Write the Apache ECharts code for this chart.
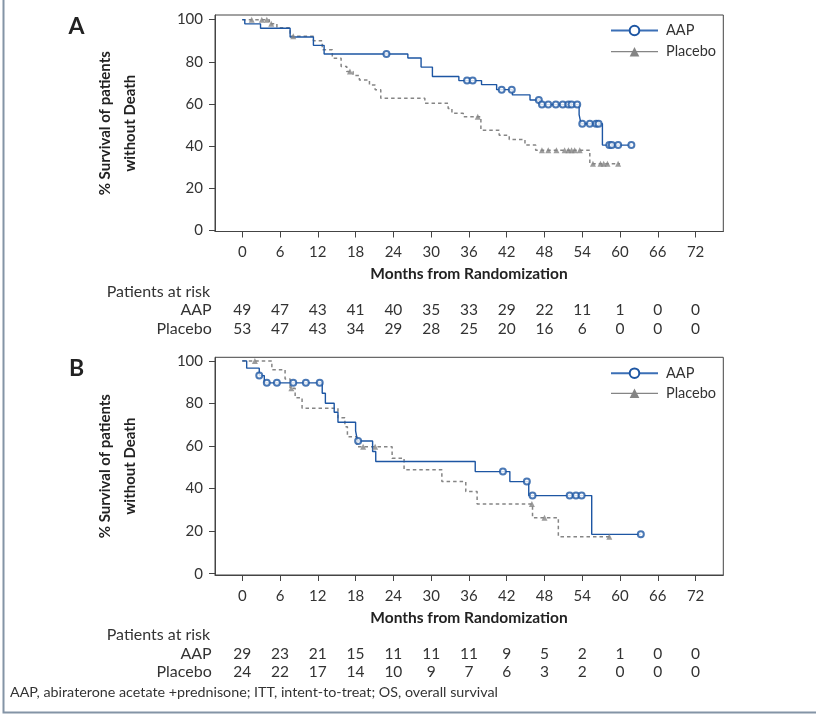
<!DOCTYPE html>
<html><head><meta charset="utf-8">
<script src="https://cdn.jsdelivr.net/npm/echarts@6/dist/echarts.min.js"></script>
<style>html,body{margin:0;padding:0;background:#fff}#c{width:816px;height:716px}</style>
</head><body><div id="c"></div>
<script>
// ---------- data ----------
const monthTicks = [0, 6, 12, 18, 24, 30, 36, 42, 48, 54, 60, 66, 72];
const yTicks = [0, 20, 40, 60, 80, 100];
const seriesNames = ['AAP', 'Placebo'];

const riskA_AAP = [49, 47, 43, 41, 40, 35, 33, 29, 22, 11, 1, 0, 0];
const riskA_Placebo = [53, 47, 43, 34, 29, 28, 25, 20, 16, 6, 0, 0, 0];
const riskB_AAP = [29, 23, 21, 15, 11, 11, 11, 9, 5, 2, 1, 0, 0];
const riskB_Placebo = [24, 22, 17, 14, 10, 9, 7, 6, 3, 2, 0, 0, 0];

// Kaplan-Meier steps [month, % surviving]
const stepsA_AAP = [[0,100],[0.4,98.0],[2.9,95.9],[7.6,91.8],[11.3,87.8],[13.0,83.7],[26.3,81.8],[28.4,77.5],[30.2,73.0],[34.4,71.1],[38.0,69.2],[40.4,66.8],[42.9,64.3],[45.7,61.9],[47.3,59.7],[53.5,55.0],[53.8,50.6],[57.2,40.5],[61.8,40.5]];
const censA_AAP = [[22.9,83.7],[35.7,71.1],[36.6,71.1],[41.2,66.8],[42.8,66.8],[47.1,61.9],[47.6,59.7],[48.6,59.7],[49.8,59.7],[50.9,59.7],[51.8,59.7],[52.3,59.7],[53.2,59.7],[54.0,50.6],[55.2,50.6],[56.2,50.6],[56.6,50.6],[58.3,40.5],[58.7,40.5],[59.7,40.5],[61.8,40.5]];
const stepsA_Placebo = [[0,100],[4.3,98.1],[5.5,96.2],[7.6,92.1],[11.3,90.0],[12.7,85.7],[14.3,81.7],[15.7,77.8],[16.6,75.4],[17.6,73.5],[18.6,71.4],[20.2,69.0],[21.1,66.7],[22.0,62.7],[29.0,60.3],[32.7,57.9],[33.3,55.6],[35.1,54.0],[37.9,47.6],[40.8,45.2],[42.4,43.2],[44.9,40.5],[46.6,38.1],[55.2,31.7],[60.0,31.7]];
const censA_Placebo = [[1.5,100],[3.1,100],[3.9,100],[4.6,98.1],[8.1,92.1],[17.1,75.4],[37.4,54.0],[47.6,38.1],[48.6,38.1],[49.9,38.1],[51.2,38.1],[51.8,38.1],[52.3,38.1],[52.8,38.1],[53.6,38.1],[55.7,31.7],[56.9,31.7],[57.4,31.7],[58.0,31.7],[59.7,31.7]];

const stepsB_AAP = [[0,100],[0.7,96.6],[2.7,93.1],[3.5,89.7],[12.7,84.8],[13.2,80.1],[14.6,75.9],[15.2,71.2],[18.0,67.1],[18.3,62.4],[20.7,57.4],[21.2,52.7],[37.0,48.0],[42.5,43.3],[45.5,36.7],[55.5,18.5],[63.3,18.5]];
const censB_AAP = [[2.7,93.1],[3.9,89.7],[5.5,89.7],[8.1,89.7],[10.1,89.7],[12.3,89.7],[18.4,62.4],[41.4,48.0],[45.2,43.3],[46.1,36.7],[52.0,36.7],[53.0,36.7],[53.9,36.7],[63.3,18.5]];
const stepsB_Placebo = [[0,100],[4.7,95.8],[6.8,91.5],[7.6,87.2],[8.4,82.7],[9.5,77.8],[15.2,73.3],[16.3,69.1],[16.7,64.4],[18.2,59.7],[23.8,54.3],[25.7,48.8],[31.7,43.3],[35.5,38.6],[37.3,32.8],[46.1,26.3],[50.2,17.4],[58.7,17.4]];
const censB_Placebo = [[2.0,100],[7.8,87.2],[19.2,59.7],[21.1,59.7],[46.0,32.8],[48.0,26.3],[58.3,17.4]];

// ---------- style ----------
const FONT = 'Lato';
const BLUE = '#1d56a3';
const GRAY = '#858585';
const INK = '#333333';
const X_MIN = -4.33, X_MAX = 76.4;

const panels = [
  {top: 15, height: 216.5, yMin: -0.47, yMax: 102.2, label: 'A',
   steps: [stepsA_AAP, stepsA_Placebo], cens: [censA_AAP, censA_Placebo], risk: [riskA_AAP, riskA_Placebo], legendTop: 18, legendGap: 6.2},
  {top: 357.3, height: 217.7, yMin: -0.6, yMax: 101.7, label: 'B',
   steps: [stepsB_AAP, stepsB_Placebo], cens: [censB_AAP, censB_Placebo], risk: [riskB_AAP, riskB_Placebo], legendTop: 360.7, legendGap: 5.1}
];

const grid = [], xAxis = [], yAxis = [], series = [], legend = [], graphic = [];

panels.forEach((p, gi) => {
  grid.push({left: 215, top: p.top, width: 508.3, height: p.height, show: true,
    borderColor: '#444', borderWidth: 1, backgroundColor: 'transparent', containLabel: false});
  const baseX = {type: 'value', gridIndex: gi, min: X_MIN, max: X_MAX, position: 'bottom', splitLine: {show: false}};
  xAxis.push(Object.assign({}, baseX, {
    axisLine: {show: true, onZero: false, lineStyle: {color: '#444', width: 1}},
    axisTick: {show: true, length: 6, lineStyle: {color: '#444'}, customValues: monthTicks},
    axisLabel: {show: true, customValues: monthTicks, margin: 21, verticalAlign: 'middle',
      fontFamily: FONT, fontSize: 15, color: INK}
  }));
  p.risk.forEach((arr, ri) => {
    xAxis.push(Object.assign({}, baseX, {
      offset: ri === 0 ? 78.5 : 97.3,
      axisLine: {show: false, onZero: false}, axisTick: {show: false},
      axisLabel: {show: true, customValues: monthTicks, margin: 0, verticalAlign: 'middle',
        fontFamily: FONT, fontSize: 15.5, color: INK,
        formatter: (v) => { const i = monthTicks.indexOf(Math.round(v)); return i >= 0 ? String(arr[i]) : ''; }}
    }));
  });
  yAxis.push({type: 'value', gridIndex: gi, min: p.yMin, max: p.yMax, splitLine: {show: false},
    axisLine: {show: true, onZero: false, lineStyle: {color: '#444', width: 1}},
    axisTick: {show: true, length: 6, lineStyle: {color: '#444'}, customValues: yTicks},
    axisLabel: {customValues: yTicks, margin: 12, fontFamily: FONT, fontSize: 15, color: INK}
  });
  const xi = gi * 3;
  series.push({name: 'AAP', type: 'line', step: 'end', xAxisIndex: xi, yAxisIndex: gi,
    data: p.steps[0], showSymbol: false, symbol: 'emptyCircle', symbolSize: 8,
    lineStyle: {color: BLUE, width: 1.4}, itemStyle: {color: BLUE}, silent: true, z: 3});
  series.push({name: 'Placebo', type: 'line', step: 'end', xAxisIndex: xi, yAxisIndex: gi,
    data: p.steps[1], showSymbol: false, symbol: 'triangle', symbolSize: 8,
    lineStyle: {color: GRAY, width: 1.5, type: [3.5, 3]}, itemStyle: {color: GRAY}, silent: true, z: 2});
  series.push({name: 'AAP censored', type: 'scatter', xAxisIndex: xi, yAxisIndex: gi,
    data: p.cens[0], symbol: 'emptyCircle', symbolSize: 6,
    itemStyle: {color: BLUE, borderColor: BLUE, borderWidth: 2.2}, silent: true, z: 4});
  series.push({name: 'Placebo censored', type: 'scatter', xAxisIndex: xi, yAxisIndex: gi,
    data: p.cens[1], symbol: 'triangle', symbolSize: 6,
    itemStyle: {color: GRAY}, silent: true, z: 3});
  legend.push({orient: 'vertical', left: 605, top: p.legendTop, itemWidth: 47, itemHeight: 12,
    itemGap: p.legendGap, selectedMode: false,
    textStyle: {fontFamily: FONT, fontSize: 14.5, color: INK, padding: [0, 0, 0, 3]},
    data: [
      {name: 'AAP', lineStyle: {color: '#3b6fb6', width: 2, type: 'solid'},
       itemStyle: {color: BLUE, borderColor: BLUE, borderWidth: 1.5}},
      {name: 'Placebo', lineStyle: {color: GRAY, width: 1.2, type: 'solid'},
       itemStyle: {color: GRAY, borderWidth: 0}}
    ]});

  const dy = gi === 0 ? 0 : 342.3;
  const bottom = p.top + p.height;
  graphic.push({type: 'text', x: 76.5, y: 26.5 + dy,
    style: {text: p.label, font: 'bold 23px ' + FONT, fill: '#222', align: 'center', verticalAlign: 'middle'}});
  graphic.push({type: 'text', x: 117.5, y: p.top + p.height / 2, rotation: Math.PI / 2,
    style: {text: '% Survival of patients\nwithout Death', font: 'bold 15px ' + FONT, lineHeight: 25,
      fill: '#222', align: 'center', verticalAlign: 'middle'}});
  graphic.push({type: 'text', x: 469, y: bottom + 42.5,
    style: {text: 'Months from Randomization', font: 'bold 15.5px ' + FONT, fill: '#222', align: 'center', verticalAlign: 'middle'}});
  graphic.push({type: 'text', x: 106.7, y: bottom + 60,
    style: {text: 'Patients at risk', font: '16px ' + FONT, fill: INK, align: 'left', verticalAlign: 'middle'}});
  graphic.push({type: 'text', x: 211.7, y: bottom + 78.5,
    style: {text: seriesNames[0], font: '16px ' + FONT, fill: INK, align: 'right', verticalAlign: 'middle'}});
  graphic.push({type: 'text', x: 211.7, y: bottom + 97.3,
    style: {text: seriesNames[1], font: '16px ' + FONT, fill: INK, align: 'right', verticalAlign: 'middle'}});
});

graphic.push({type: 'text', x: 10, y: 692,
  style: {text: 'AAP, abiraterone acetate +prednisone; ITT, intent-to-treat; OS, overall survival',
    font: '14.3px ' + FONT, fill: INK, align: 'left', verticalAlign: 'middle'}});
graphic.push({type: 'polyline', shape: {points: [[3.5, 0], [3.5, 712.5], [816, 712.5]]},
  style: {stroke: '#8494a6', lineWidth: 2, fill: null}, silent: true});

const chart = echarts.init(document.getElementById('c'), null, {renderer: 'canvas'});
chart.setOption({animation: false, backgroundColor: '#ffffff', grid, xAxis, yAxis, series, legend, graphic});
</script></body></html>
